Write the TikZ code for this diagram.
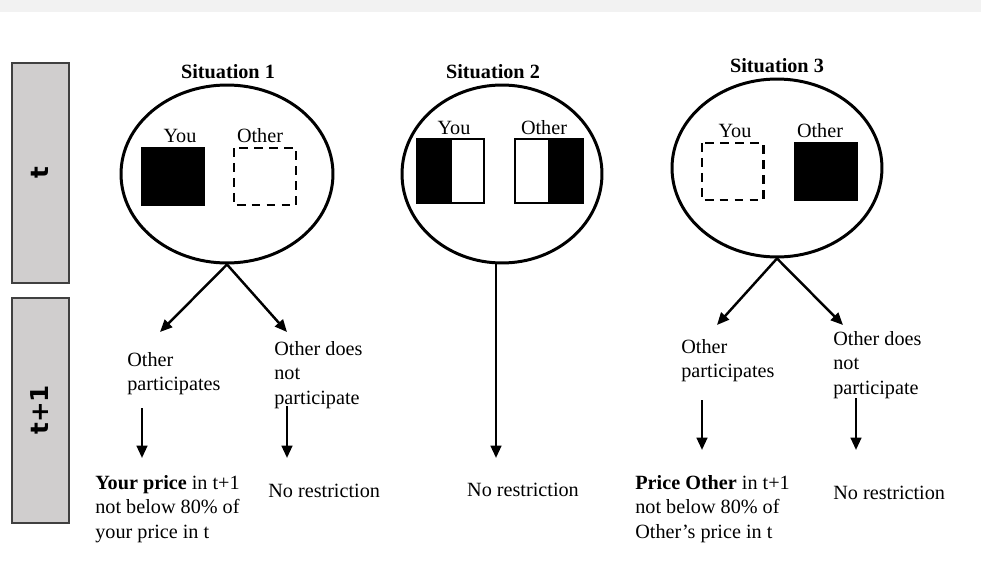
\documentclass[tikz,border=0pt]{standalone}
\usepackage{fontspec}
\setmainfont{Liberation Serif}
\newfontfamily\tabfont{DejaVu Sans}
\usepackage{xcolor}
\definecolor{band-gray}{HTML}{F2F2F2}
\definecolor{tab-gray}{HTML}{D0CECE}
\definecolor{tab-line}{HTML}{404040}
\usetikzlibrary{arrows.meta,shapes.geometric}

\tikzset{
  lbl/.style={font=\fontsize{11.5}{14}\selectfont, inner sep=0pt, align=left},
  ttl/.style={font=\fontsize{11.5}{14}\selectfont\bfseries, inner sep=0pt},
  sit/.style={draw, ellipse, line width=1.7pt, inner sep=0pt},
  arr/.style={line width=1.4pt, -{Triangle[length=7pt,width=6pt]}},
  tabbox/.style={fill=tab-gray, draw=tab-line, line width=0.6pt},
  tabtxt/.style={rotate=90, font=\tabfont\bfseries\fontsize{14}{14}\selectfont},
  gap/.style={line width=1.7pt, dash pattern=on 5pt off 3.5pt},
}

\begin{document}
\begin{tikzpicture}[x=0.02cm, y=-0.02cm]

    \useasboundingbox (0,0) rectangle (981,565);

    % Background
    \fill[band-gray] (0,0) rectangle (981,12);

    % Time tabs
    \filldraw[tabbox] (12,63) rectangle (69,283);
    \filldraw[tabbox] (12,298) rectangle (69,523);
    \node[tabtxt] (tnow) at (40,173) {t};
    \node[tabtxt] (tnext) at (40,410) {t+1};

    % Situation 1
    \node[ttl] (title1) at (228,72) {Situation 1};
    \node[sit, minimum width=4.24cm, minimum height=3.56cm] (sit1) at (227,174) {};
    \node[lbl] (you1) at (180,136) {You};
    \node[lbl] (oth1) at (260,136) {Other};
    \fill (141,147) rectangle (205,206);
    \draw[gap] (234,148) rectangle (296,205);

    % Situation 2
    \node[ttl] (title2) at (493,72) {Situation 2};
    \node[sit, minimum width=4.0cm, minimum height=3.56cm] (sit2) at (502,174) {};
    \node[lbl] (you2) at (454,128) {You};
    \node[lbl] (oth2) at (544,128) {Other};
    \fill (417,139) rectangle (452,203);
    \draw[line width=1.2pt] (417,139) rectangle (484,203);
    \fill (548,139) rectangle (583,203);
    \draw[line width=1.2pt] (515,139) rectangle (583,203);

    % Situation 3
    \node[ttl] (title3) at (777,66) {Situation 3};
    \node[sit, minimum width=4.2cm, minimum height=3.56cm] (sit3) at (777,168) {};
    \node[lbl] (you3) at (735,131) {You};
    \node[lbl] (oth3) at (820,131) {Other};
    \draw[gap] (702,143) rectangle (763,200);
    \fill (794,142) rectangle (858,201);

    % Branches at t+1
    \coordinate (fork1l) at (160,332);
    \coordinate (fork1r) at (287,332);
    \coordinate (fork3l) at (717,325);
    \coordinate (fork3r) at (843,325);
    \coordinate (stem2) at (496,458);
    \draw[arr] (sit1.south) -- (fork1l);
    \draw[arr] (sit1.south) -- (fork1r);
    \draw[arr] (sit3.south) -- (fork3l);
    \draw[arr] (sit3.south) -- (fork3r);
    \draw[arr] (sit2.south -| stem2) -- (stem2);

    \node[lbl, anchor=north west] (part1) at (127,352) {Other\\participates};
    \node[lbl, anchor=north west] (nopart1) at (274,341) {Other does\\not\\participate};
    \node[lbl, anchor=north west] (part3) at (681,339) {Other\\participates};
    \node[lbl, anchor=north west] (nopart3) at (833,331) {Other does\\not\\participate};

    % Outcomes
    \coordinate (up1l) at (142,408);   \coordinate (down1l) at (142,458);
    \coordinate (up1r) at (287,406);   \coordinate (down1r) at (287,458);
    \coordinate (up3l) at (702,400);   \coordinate (down3l) at (702,450);
    \coordinate (up3r) at (856,398);   \coordinate (down3r) at (856,450);
    \draw[arr] (up1l) -- (down1l);
    \draw[arr] (up1r) -- (down1r);
    \draw[arr] (up3l) -- (down3l);
    \draw[arr] (up3r) -- (down3r);

    \node[lbl, anchor=north west] (rule1) at (95,475) {\textbf{Your price} in t+1\\not below 80\% of\\your price in t};
    \node[lbl, anchor=west] (free1) at (268,491) {No restriction};
    \node[lbl] (free2) at (523,490) {No restriction};
    \node[lbl, anchor=north west] (rule3) at (635,475) {\textbf{Price Other} in t+1\\not below 80\% of\\Other’s price in t};
    \node[lbl, anchor=west] (free3) at (833,493) {No restriction};

\end{tikzpicture}
\end{document}
